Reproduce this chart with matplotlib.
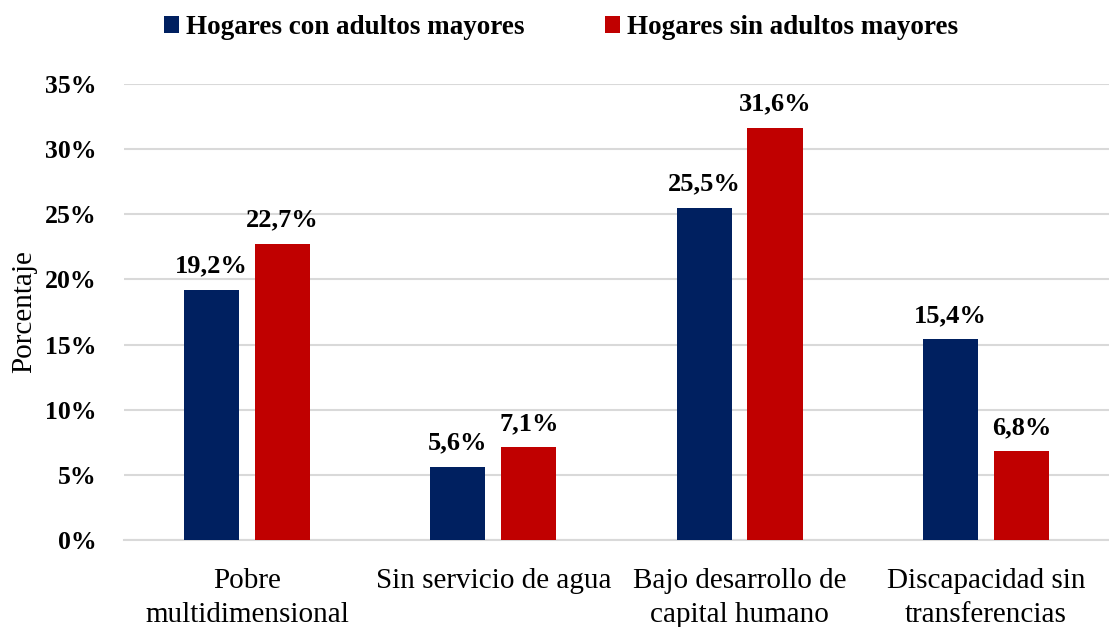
import numpy as np
import matplotlib.pyplot as plt
from matplotlib.ticker import FuncFormatter

# Datos
categorias = ["Pobre\nmultidimensional", "Sin servicio de agua",
              "Bajo desarrollo de\ncapital humano", "Discapacidad sin\ntransferencias"]
con_adultos = [19.2, 5.6, 25.5, 15.4]
sin_adultos = [22.7, 7.1, 31.6, 6.8]
series = ["Hogares con adultos mayores", "Hogares sin adultos mayores"]

plt.rcParams['font.family'] = ['Liberation Serif', 'DejaVu Serif']

azul = "#002060"
rojo = "#C00000"

fig = plt.figure(figsize=(11.09, 6.27), dpi=100)
ax = fig.add_axes([0.1118, 0.1388, 0.8882, 0.7272])

x = np.arange(len(categorias))
ancho = 0.224
desp = 0.144
b1 = ax.bar(x - desp, con_adultos, ancho, color=azul, label=series[0], zorder=3)
b2 = ax.bar(x + desp, sin_adultos, ancho, color=rojo, label=series[1], zorder=3)

# Etiquetas de valor
for barras, vals in [(b1, con_adultos), (b2, sin_adultos)]:
    for b, v in zip(barras, vals):
        ax.annotate(f"{v:.1f}%".replace(".", ","),
                    (b.get_x() + b.get_width() / 2, v),
                    xytext=(0, 9), textcoords="offset points",
                    ha="center", va="bottom", fontsize=19, fontweight="bold")

ax.set_xlim(-0.5, 3.5)
ax.set_ylim(0, 35)
ax.set_yticks(np.arange(0, 36, 5))
ax.yaxis.set_major_formatter(FuncFormatter(lambda v, p: f"{int(v)}%"))
ax.set_xticks(x)
ax.set_xticklabels(categorias, fontsize=21, linespacing=1.4)

for lab in ax.get_yticklabels():
    lab.set_fontsize(18.5)
    lab.set_fontweight("bold")

ax.grid(axis="y", color="#d9d9d9", linewidth=1.5, zorder=0)
for s in ["top", "right", "left"]:
    ax.spines[s].set_visible(False)
ax.spines["bottom"].set_color("#d9d9d9")
ax.spines["bottom"].set_linewidth(1.5)
ax.tick_params(axis="both", length=0)
ax.tick_params(axis="x", pad=20)
ax.tick_params(axis="y", pad=20)

ax.set_ylabel("Porcentaje", fontsize=21)
ax.yaxis.set_label_coords(-0.088, 0.5)

fig.legend(loc="upper center", bbox_to_anchor=(0.506, 1.015), ncol=2, frameon=False,
           prop={"size": 19.5, "weight": "bold"}, handlelength=0.55, handleheight=0.55,
           handletextpad=0.25, columnspacing=3.0)

plt.savefig("out.png", dpi=100)
